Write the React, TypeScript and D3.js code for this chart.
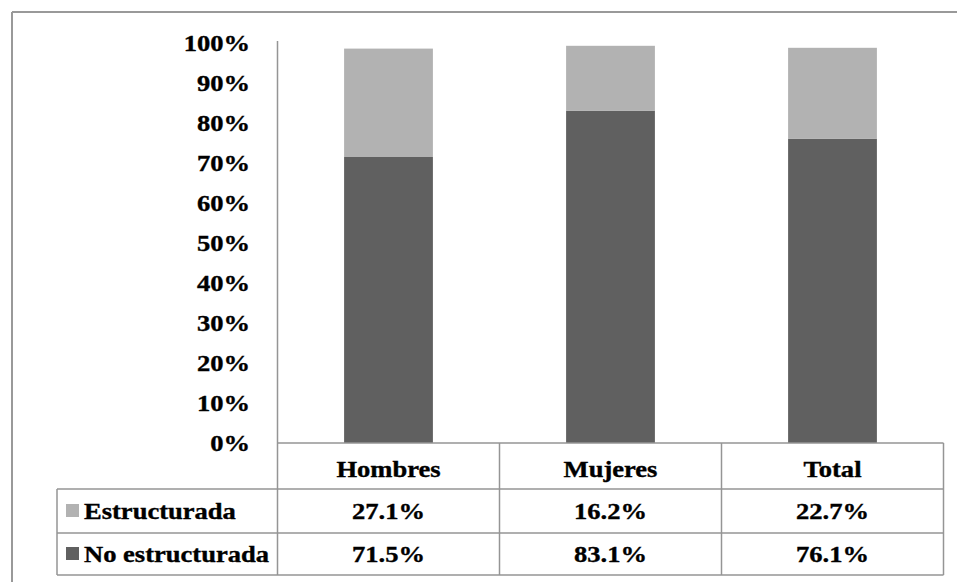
import React from "react";
import * as d3 from "d3";

const categories = ["Hombres", "Mujeres", "Total"];
const seriesNames = ["Estructurada", "No estructurada"];
const estructurada = [27.1, 16.2, 22.7];
const noEstructurada = [71.5, 83.1, 76.1];
const yTicks = [0, 10, 20, 30, 40, 50, 60, 70, 80, 90, 100];

const W = 957;
const H = 582;
const plotLeft = 277.5;
const plotRight = 943.5;
const plotTop = 43;
const plotBottom = 443;
const tableLeft = 57;
const rowLines = [443, 489, 533, 575];

const DARK = "#606060";
const LIGHT = "#b2b2b2";
const LINE = "#959595";
const FONT = "'Liberation Serif', 'Times New Roman', serif";
const FS = 22.5;
const SX = 1.18;

function T({ x, y, anchor, children }: { x: number; y: number; anchor: string; children: any }) {
  return (
    <text
      transform={`translate(${x},${y}) scale(${SX},1)`}
      textAnchor={anchor}
      fontFamily={FONT}
      fontWeight="bold"
      fontSize={FS}
      fill="#000"
      stroke="#000"
      strokeWidth={0.35}
    >
      {children}
    </text>
  );
}

export default function App() {
  const x = d3
    .scaleBand<string>()
    .domain(categories)
    .range([plotLeft, plotRight])
    .paddingInner(0.6)
    .paddingOuter(0.3);
  const y = d3.scaleLinear().domain([0, 100]).range([plotBottom, plotTop]);
  const step = x.step();
  const colStarts = categories.map((_, i) => plotLeft + i * step);

  const rows = [
    { name: seriesNames[0], vals: estructurada, color: LIGHT },
    { name: seriesNames[1], vals: noEstructurada, color: DARK },
  ];

  return (
    <svg
      width={W}
      height={H}
      style={{ position: "absolute", left: 0, top: 0, background: "#fff" }}
    >
      <rect x={0} y={0} width={W} height={H} fill="#fff" />
      {/* outer frame */}
      <line x1={12} y1={12} x2={W} y2={12} stroke="#999" strokeWidth={2} />
      <line x1={12} y1={12} x2={12} y2={H} stroke="#999" strokeWidth={2} />

      {/* bars */}
      {categories.map((c, i) => {
        const bx = x(c)!;
        const bw = x.bandwidth();
        const v0 = noEstructurada[i];
        const v1 = estructurada[i];
        return (
          <g key={c}>
            <rect x={bx} y={y(v0)} width={bw} height={y(0) - y(v0)} fill={DARK} />
            <rect
              x={bx}
              y={y(v0 + v1)}
              width={bw}
              height={y(v0) - y(v0 + v1)}
              fill={LIGHT}
            />
          </g>
        );
      })}

      {/* y axis */}
      <line x1={plotLeft} y1={41} x2={plotLeft} y2={rowLines[3]} stroke={LINE} strokeWidth={1.5} />
      {yTicks.map((t) => (
        <T key={t} x={250} y={y(t) + 8} anchor="end">
          {t}%
        </T>
      ))}

      {/* table lines */}
      <line x1={plotLeft} y1={rowLines[0]} x2={plotRight} y2={rowLines[0]} stroke={LINE} strokeWidth={1.5} />
      {rowLines.slice(1).map((ry) => (
        <line key={ry} x1={tableLeft} y1={ry} x2={plotRight} y2={ry} stroke={LINE} strokeWidth={1.5} />
      ))}
      <line x1={tableLeft} y1={rowLines[1]} x2={tableLeft} y2={rowLines[3]} stroke={LINE} strokeWidth={1.5} />
      {colStarts.slice(1).concat([plotRight]).map((cx) => (
        <line key={cx} x1={cx} y1={rowLines[0]} x2={cx} y2={rowLines[3]} stroke={LINE} strokeWidth={1.5} />
      ))}

      {/* header */}
      {categories.map((c, i) => (
        <T key={c} x={colStarts[i] + step / 2} y={477} anchor="middle">
          {c}
        </T>
      ))}

      {/* rows */}
      {rows.map((r, ri) => {
        const top = rowLines[ri + 1];
        const bot = rowLines[ri + 2];
        const mid = (top + bot) / 2;
        return (
          <g key={r.name}>
            <rect x={66} y={mid - 7} width={13} height={13} fill={r.color} />
            <T x={84} y={mid + 7.5} anchor="start">
              {r.name}
            </T>
            {r.vals.map((v, i) => (
              <T key={i} x={colStarts[i] + step / 2} y={mid + 7.5} anchor="middle">
                {v.toFixed(1)}%
              </T>
            ))}
          </g>
        );
      })}
    </svg>
  );
}
